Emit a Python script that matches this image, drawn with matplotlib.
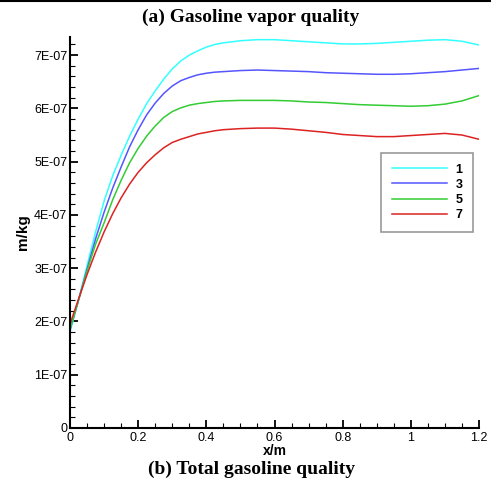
import numpy as np
import matplotlib
matplotlib.use('Agg')
import matplotlib.pyplot as plt
from matplotlib.ticker import MultipleLocator, FuncFormatter
from matplotlib.lines import Line2D

# values (y in units of 1E-07)
x = [0, 0.025, 0.05, 0.075, 0.1, 0.125, 0.15, 0.175, 0.2, 0.225, 0.25, 0.275,
     0.3, 0.325, 0.35, 0.375, 0.4, 0.425, 0.45,
     0.5, 0.55, 0.6, 0.65, 0.7, 0.75, 0.8, 0.85, 0.9, 0.95, 1.0, 1.05, 1.1, 1.15, 1.2]
s1 = [1.8, 2.4, 3.05, 3.68, 4.26, 4.73, 5.12, 5.48, 5.8, 6.09, 6.33, 6.55,
      6.74, 6.89, 7.0, 7.08, 7.15, 7.2, 7.23,
      7.27, 7.29, 7.29, 7.27, 7.25, 7.23, 7.21, 7.21, 7.22, 7.24, 7.26, 7.28, 7.29, 7.26, 7.19]
s3 = [1.85, 2.4, 2.98, 3.55, 4.05, 4.5, 4.9, 5.28, 5.6, 5.88, 6.1, 6.28,
      6.42, 6.52, 6.58, 6.63, 6.66, 6.68, 6.69,
      6.71, 6.72, 6.71, 6.70, 6.69, 6.67, 6.66, 6.65, 6.64, 6.64, 6.65, 6.67, 6.69, 6.72, 6.75]
s5 = [1.85, 2.4, 2.95, 3.45, 3.85, 4.28, 4.65, 4.98, 5.25, 5.48, 5.67, 5.83,
      5.94, 6.01, 6.06, 6.09, 6.11, 6.13, 6.14,
      6.15, 6.15, 6.15, 6.14, 6.12, 6.11, 6.09, 6.07, 6.06, 6.05, 6.04, 6.05, 6.08, 6.14, 6.24]
s7 = [1.95, 2.42, 2.88, 3.3, 3.68, 4.02, 4.32, 4.58, 4.8, 4.98, 5.13, 5.26,
      5.36, 5.42, 5.47, 5.52, 5.55, 5.58, 5.6,
      5.62, 5.63, 5.63, 5.61, 5.58, 5.55, 5.51, 5.49, 5.47, 5.47, 5.49, 5.51, 5.53, 5.50, 5.42]
labels = ['1', '3', '5', '7']
colors = ['#33ffff', '#5555ff', '#33cc33', '#dd2222']

fig = plt.figure(figsize=(4.91, 4.87), dpi=100)
ax = fig.add_axes([70/491, 1-428/487, 409/491, 391/487])

for s, lab, c in zip([s1, s3, s5, s7], labels, colors):
    ax.plot(x, np.array(s) * 1e-7, color=c, lw=1.1, label=lab)

ax.set_xlim(0, 1.2)
ax.set_ylim(0, 7.34e-7)
ax.xaxis.set_major_locator(MultipleLocator(0.2))
ax.xaxis.set_minor_locator(MultipleLocator(0.05))
ax.yaxis.set_major_locator(MultipleLocator(1e-7))
ax.yaxis.set_minor_locator(MultipleLocator(0.2e-7))

def yfmt(v, pos):
    if abs(v) < 1e-12:
        return '0'
    return '%dE-07' % round(v * 1e7)

def xfmt(v, pos):
    return ('%g' % round(v, 2))

ax.yaxis.set_major_formatter(FuncFormatter(yfmt))
ax.xaxis.set_major_formatter(FuncFormatter(xfmt))

for sp in ['top', 'right']:
    ax.spines[sp].set_visible(False)
for sp in ['left', 'bottom']:
    ax.spines[sp].set_linewidth(1.5)

ax.tick_params(which='major', direction='in', length=6, width=1.3,
               labelsize=9, pad=3)
ax.tick_params(which='minor', direction='in', length=3.5, width=0.8)
for t in ax.get_xticklabels() + ax.get_yticklabels():
    t.set_family('Liberation Sans')
ax.tick_params(axis='y', pad=2)

ax.set_xlabel('x/m', fontsize=10, fontweight='bold', family='Liberation Sans', labelpad=0)
ax.set_ylabel('m/kg', fontsize=11, fontweight='bold', family='Liberation Sans')
ax.yaxis.set_label_coords(-0.097, 0.5)

leg = ax.legend(loc='upper left', bbox_to_anchor=((381-70)/409, (428-153)/391),
                borderaxespad=0,
                prop={'family': 'Liberation Sans', 'weight': 'bold', 'size': 9},
                fancybox=False, edgecolor='#999999', framealpha=1,
                handlelength=4.4, handletextpad=0.7, labelspacing=0.25,
                borderpad=0.85)
leg.get_frame().set_linewidth(1.2)

fig.text(0.51, 1-17/487, '(a) Gasoline vapor quality', ha='center', va='center',
         family='Liberation Serif', fontweight='bold', fontsize=14)
fig.text(0.512, 1-469/487, '(b) Total gasoline quality', ha='center', va='center',
         family='Liberation Serif', fontweight='bold', fontsize=14)
fig.add_artist(Line2D([0, 1], [0.998, 0.998], color='black', lw=1.5,
                      transform=fig.transFigure))

fig.savefig('out.png', dpi=100)
